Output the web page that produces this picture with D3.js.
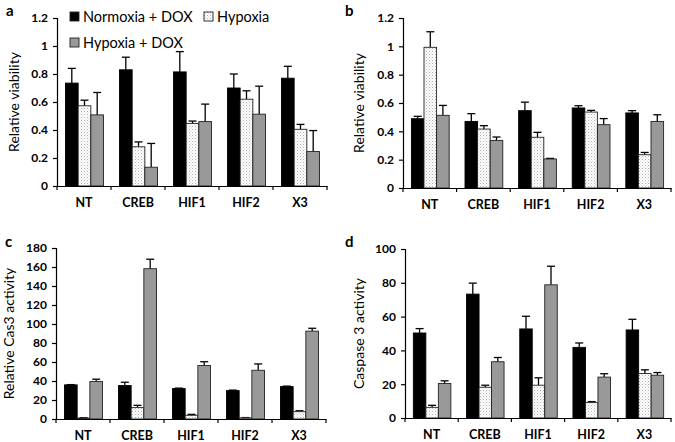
<!DOCTYPE html>
<html><head><meta charset="utf-8">
<script src="https://cdn.jsdelivr.net/npm/d3@7"></script>
<style>
body{margin:0;background:#fff;}
svg{display:block;font-family:Lato,"Liberation Sans",Arial,sans-serif;}
</style></head>
<body>
<svg id="chart" width="675" height="442"></svg>
<script>
const categories = ["NT","CREB","HIF1","HIF2","X3"];
const seriesNames = ["Normoxia + DOX","Hypoxia","Hypoxia + DOX"];

// Panel a: relative viability
const aNormoxDox = [0.735,0.83,0.815,0.70,0.77];
const aNormoxDoxErr = [0.105,0.09,0.145,0.10,0.085];
const aHypoxia = [0.573,0.28,0.447,0.62,0.405];
const aHypoxiaErr = [0.04,0.035,0.017,0.06,0.035];
const aHypoxDox = [0.508,0.134,0.46,0.513,0.246];
const aHypoxDoxErr = [0.16,0.17,0.125,0.2,0.15];

// Panel b: relative viability
const bNormoxDox = [0.489,0.47,0.546,0.565,0.53];
const bNormoxDoxErr = [0.017,0.055,0.06,0.016,0.016];
const bHypoxia = [0.993,0.416,0.358,0.536,0.235];
const bHypoxiaErr = [0.11,0.024,0.035,0.012,0.016];
const bHypoxDox = [0.513,0.336,0.205,0.447,0.47];
const bHypoxDoxErr = [0.07,0.024,0.004,0.043,0.047];

// Panel c: relative Cas3 activity
const cNormoxDox = [35.9,35.2,32,29.9,34.1];
const cNormoxDoxErr = [0.3,3.5,0.5,0.5,0.5];
const cHypoxia = [1.0,12,3.9,1.2,7.7];
const cHypoxiaErr = [0.3,2.4,1,0.3,1];
const cHypoxDox = [39.4,158.2,56.3,51.3,92.5];
const cHypoxDoxErr = [2.5,10,4,6.7,3];

// Panel d: caspase 3 activity
const dNormoxDox = [50.3,73.3,52.7,41.8,52.1];
const dNormoxDoxErr = [2.6,6.5,7.5,2.6,6.3];
const dHypoxia = [6.3,18.2,19.4,9.1,26.3];
const dHypoxiaErr = [1.2,1.2,4.4,0.6,2.2];
const dHypoxDox = [20.4,33.3,78.8,24.2,25.3];
const dHypoxDoxErr = [1.6,2.5,11,2,1.6];

const aTicks = [0,0.2,0.4,0.6,0.8,1,1.2];
const bTicks = [0,0.2,0.4,0.6,0.8,1,1.2];
const cTicks = [0,20,40,60,80,100,120,140,160,180];
const dTicks = [0,20,40,60,80,100];

const svg = d3.select("#chart");
const defs = svg.append("defs");
const pat = defs.append("pattern").attr("id","dots").attr("patternUnits","userSpaceOnUse")
  .attr("width",3).attr("height",3);
pat.append("rect").attr("width",3).attr("height",3).attr("fill","#fff");
pat.append("rect").attr("x",0).attr("y",0).attr("width",1).attr("height",1).attr("fill","#b0b0b0");
pat.append("rect").attr("x",1.5).attr("y",1.5).attr("width",1).attr("height",1).attr("fill","#c8c8c8");

const fills = ["#000","url(#dots)","#999"];

function panel(o){
  const g = svg.append("g");
  const x = d3.scaleBand().domain(categories).range([o.x0,o.x1]).padding(0);
  const y = d3.scaleLinear().domain([0,o.max]).range([o.y0,o.y1]);
  const series = [
    {v:o.s[0],e:o.e[0]},{v:o.s[1],e:o.e[1]},{v:o.s[2],e:o.e[2]}
  ];
  const bw = x.bandwidth()*0.235;
  const inner = d3.scaleBand().domain([0,1,2]).range([x.bandwidth()/2-1.5*bw+0.5, x.bandwidth()/2+1.5*bw+0.5]);
  series.forEach((s,si)=>{
    categories.forEach((c,ci)=>{
      const bx = x(c)+inner(si);
      const v = s.v[ci], e = s.e[ci];
      const top = y(v+e);
      const mid = bx+bw/2;
      g.append("line").attr("x1",mid).attr("x2",mid).attr("y1",y(v)).attr("y2",top)
        .attr("stroke","#000").attr("stroke-width",1.3);
      g.append("line").attr("x1",mid).attr("x2",mid+4).attr("y1",top).attr("y2",top)
        .attr("stroke","#000").attr("stroke-width",1.3);
      g.append("line").attr("x1",mid-4).attr("x2",mid).attr("y1",top).attr("y2",top)
        .attr("stroke","#000").attr("stroke-width",1.3);
      g.append("rect").attr("x",bx).attr("y",y(v)).attr("width",bw).attr("height",o.y0-y(v))
        .attr("fill",fills[si]).attr("stroke",si===0?"#000":"#222").attr("stroke-width",0.9);
    });
  });
  // y axis
  const ya = g.append("g").attr("transform",`translate(${o.x0},0)`)
    .call(d3.axisLeft(y).tickValues(o.ticks).tickSize(4).tickPadding(5).tickFormat(d=>String(d)));
  ya.select(".domain").attr("stroke","#000").attr("stroke-width",1.2);
  ya.selectAll(".tick line").attr("stroke","#000").attr("stroke-width",1.2);
  ya.selectAll("text").attr("font-size",12).attr("font-weight","bold").attr("fill","#000")
    .attr("font-family","Lato,'Liberation Sans',Arial,sans-serif");
  // x axis
  const xa = g.append("g").attr("transform",`translate(0,${o.y0})`)
    .call(d3.axisBottom(x).tickSize(0).tickPadding(12));
  xa.select(".domain").attr("stroke","#000").attr("stroke-width",1.2);
  xa.selectAll("text").attr("font-size",12.5).attr("font-weight","bold").attr("fill","#000")
    .attr("font-family","Lato,'Liberation Sans',Arial,sans-serif");
  // category boundary ticks
  const bounds = categories.map(c=>x(c)).concat([o.x1]);
  g.selectAll(null).data(bounds).enter().append("line")
    .attr("x1",d=>d).attr("x2",d=>d).attr("y1",o.y0).attr("y2",o.y0+4)
    .attr("stroke","#000").attr("stroke-width",1.2);
  // y title
  g.append("text").attr("transform",`translate(${o.titleX},${(o.y0+o.y1)/2}) rotate(-90)`)
    .attr("text-anchor","middle").attr("font-size",14).attr("fill","#000").text(o.title);
  // panel letter
  g.append("text").attr("x",o.lx).attr("y",o.ly).attr("font-size",15).attr("font-weight","bold")
    .attr("fill","#000").text(o.letter);
}

panel({x0:57,x1:327,y0:186,y1:18,max:1.2,ticks:aTicks,s:[aNormoxDox,aHypoxia,aHypoxDox],
  e:[aNormoxDoxErr,aHypoxiaErr,aHypoxDoxErr],title:"Relative viability",titleX:19,letter:"a",lx:6,ly:16});
panel({x0:403,x1:671,y0:188,y1:18,max:1.2,ticks:bTicks,s:[bNormoxDox,bHypoxia,bHypoxDox],
  e:[bNormoxDoxErr,bHypoxiaErr,bHypoxDoxErr],title:"Relative viability",titleX:364,letter:"b",lx:345,ly:16});
panel({x0:56,x1:326,y0:419,y1:248,max:180,ticks:cTicks,s:[cNormoxDox,cHypoxia,cHypoxDox],
  e:[cNormoxDoxErr,cHypoxiaErr,cHypoxDoxErr],title:"Relative Cas3 activity",titleX:14,letter:"c",lx:5,ly:247});
panel({x0:405,x1:671,y0:418,y1:249,max:100,ticks:dTicks,s:[dNormoxDox,dHypoxia,dHypoxDox],
  e:[dNormoxDoxErr,dHypoxiaErr,dHypoxDoxErr],title:"Caspase 3 activity",titleX:364,letter:"d",lx:345,ly:247});

// legend
const legend = svg.append("g").attr("font-size",14.5).attr("fill","#000");
const legendItems = [
  {name:seriesNames[0],fill:fills[0],x:70,y:17},
  {name:seriesNames[1],fill:fills[1],x:204,y:17},
  {name:seriesNames[2],fill:fills[2],x:70,y:43}
];
legendItems.forEach(d=>{
  legend.append("rect").attr("x",d.x).attr("y",d.y-5).attr("width",9).attr("height",9)
    .attr("fill",d.fill).attr("stroke","#222").attr("stroke-width",0.9);
  legend.append("text").attr("x",d.x+13).attr("y",d.y+5).text(d.name);
});
</script>
</body></html>
